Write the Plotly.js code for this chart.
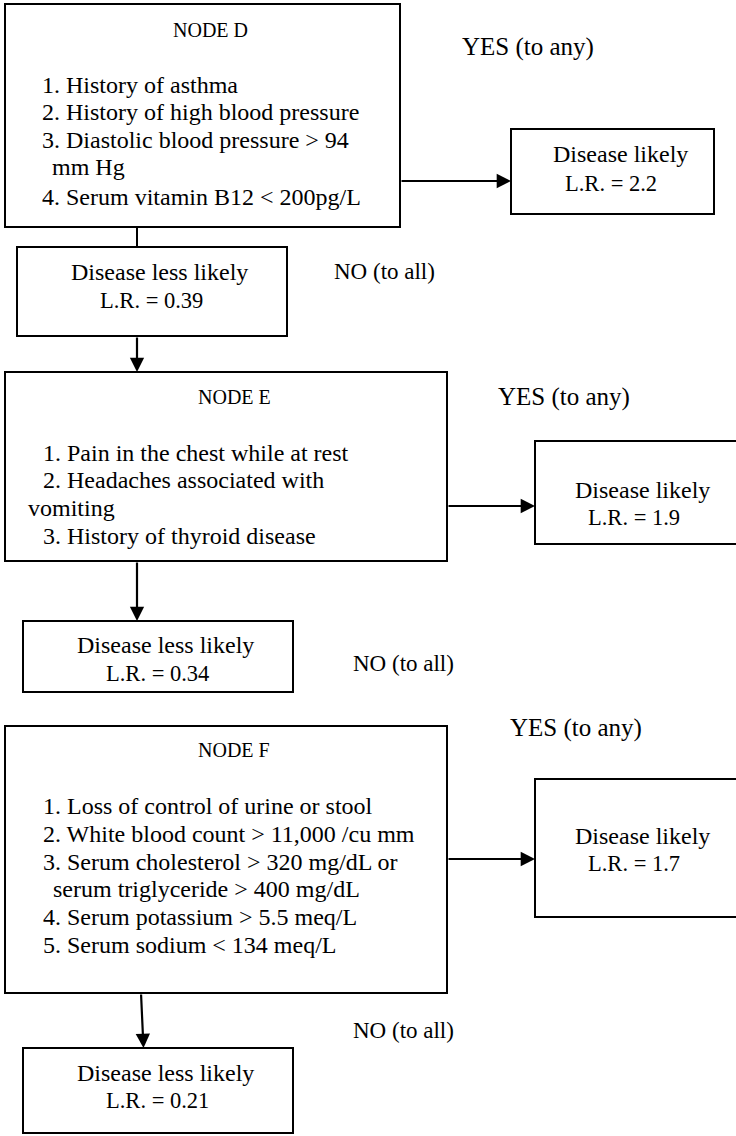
<!DOCTYPE html>
<html><head><meta charset="utf-8">
<script src="https://cdn.plot.ly/plotly-3.0.1.min.js"></script>
<style>html,body{margin:0;padding:0;background:#fff;}#chart{width:736px;height:1136px;}</style>
</head><body><div id="chart"></div>
<script>
// ---- data ----
const nodeNames = ["NODE D", "NODE E", "NODE F"];
const nodeItemsD = ["1. History of asthma", "2. History of high blood pressure", "3. Diastolic blood pressure > 94", "mm Hg", "4. Serum vitamin B12 < 200pg/L"];
const nodeItemsE = ["1. Pain in the chest while at rest", "2. Headaches associated with", "vomiting", "3. History of thyroid disease"];
const nodeItemsF = ["1. Loss of control of urine or stool", "2. White blood count > 11,000 /cu mm", "3. Serum cholesterol > 320 mg/dL or", "serum triglyceride > 400 mg/dL", "4. Serum potassium > 5.5 meq/L", "5. Serum sodium < 134 meq/L"];
const likelyLR = ["2.2", "1.9", "1.7"];
const lessLikelyLR = ["0.39", "0.34", "0.21"];
const likelyLabel = "Disease likely";
const lessLikelyLabel = "Disease less likely";
const yesLabel = "YES (to any)";
const noLabel = "NO (to all)";

// ---- layout geometry ----
const nodeItems = [nodeItemsD, nodeItemsE, nodeItemsF];
const geo = [
  {box:[5,400,4,227], titleX:210, titleY:30, itemX:[40,40,40,50,40], itemY:[85,112,140,167,197],
   yes:{x:460,y:47}, likely:[511,714,129,214], likelyTX:[620,611], likelyTY:[154,183], arrowY:181,
   down:{x0:137,y0:227,x1:137,y1:247,arrow:false},
   less:[17,287,247,336], lessTX:[159,151], lessTY:[272,300], no:{x:332,y:271}},
  {box:[5,447,372,561], titleX:234, titleY:397, itemX:[41,41,26,41], itemY:[453,480,508,536],
   yes:{x:496,y:397}, likely:[535,738,441,544], likelyTX:[642,634], likelyTY:[490,517], arrowY:506,
   down:{x0:137,y0:561,x1:137,y1:621,arrow:true},
   less:[23,293,621,692], lessTX:[165,157], lessTY:[645,673], no:{x:351,y:663}},
  {box:[5,447,726,993], titleX:234, titleY:750, itemX:[41,41,41,51,41,41], itemY:[806,834,862,889,917,945],
   yes:{x:508,y:728}, likely:[535,738,779,917], likelyTX:[642,634], likelyTY:[836,863], arrowY:859,
   down:{x0:141,y0:993,x1:143.5,y1:1048,arrow:true},
   less:[23,293,1048,1133], lessTX:[165,157], lessTY:[1073,1100], no:{x:351,y:1030}}
];
const extraArrow = {x0:137, y0:336, x1:137, y1:372};

const FONT = "Liberation Serif";
const esc = s => s.replace(/&/g,"&amp;").replace(/</g,"&lt;").replace(/>/g,"&gt;");

const shapes = [];
const annotations = [];
function box(b){ shapes.push({type:'rect', xref:'x', yref:'y', x0:b[0], x1:b[1], y0:b[2], y1:b[3], line:{color:'#000', width:2}, fillcolor:'rgba(0,0,0,0)'}); }
function txt(s, x, y, anchor, size){ annotations.push({text:esc(s), x:x, y:y, xref:'x', yref:'y', xanchor:anchor, yanchor:'middle', showarrow:false, font:{family:FONT, size:size, color:'#000'}}); }
function arrow(x0,y0,x1,y1){ annotations.push({text:'', x:x1, y:y1, ax:x0, ay:y0, xref:'x', yref:'y', axref:'x', ayref:'y', showarrow:true, arrowhead:2, arrowsize:1.3, arrowwidth:2.2, arrowcolor:'#000', standoff:0, startstandoff:0}); }
function line(x0,y0,x1,y1){ shapes.push({type:'line', xref:'x', yref:'y', x0:x0, y0:y0, x1:x1, y1:y1, line:{color:'#000', width:2}}); }

geo.forEach((g,i)=>{
  box(g.box);
  txt(nodeNames[i], g.titleX, g.titleY, 'center', 20);
  nodeItems[i].forEach((s,j)=> txt(s, g.itemX[j], g.itemY[j], 'left', 24));
  txt(yesLabel, g.yes.x, g.yes.y, 'left', 25);
  box(g.likely);
  txt(likelyLabel, g.likelyTX[0], g.likelyTY[0], 'center', 24);
  txt("L.R. = " + likelyLR[i], g.likelyTX[1], g.likelyTY[1], 'center', 22.5);
  arrow(g.box[1], g.arrowY, g.likely[0], g.arrowY);
  if (g.down.arrow) arrow(g.down.x0, g.down.y0, g.down.x1, g.down.y1);
  else line(g.down.x0, g.down.y0, g.down.x1, g.down.y1);
  box(g.less);
  txt(lessLikelyLabel, g.lessTX[0], g.lessTY[0], 'center', 24);
  txt("L.R. = " + lessLikelyLR[i], g.lessTX[1], g.lessTY[1], 'center', 22.5);
  txt(noLabel, g.no.x, g.no.y, 'left', 23);
});
arrow(extraArrow.x0, extraArrow.y0, extraArrow.x1, extraArrow.y1);

const layout = {
  width:736, height:1136, margin:{l:0,r:0,t:0,b:0},
  paper_bgcolor:'#fff', plot_bgcolor:'#fff', showlegend:false,
  xaxis:{range:[0,736], visible:false, fixedrange:true},
  yaxis:{range:[1136,0], visible:false, fixedrange:true},
  shapes:shapes, annotations:annotations
};
Plotly.newPlot('chart', [], layout, {staticPlot:true, displayModeBar:false});
</script></body></html>
